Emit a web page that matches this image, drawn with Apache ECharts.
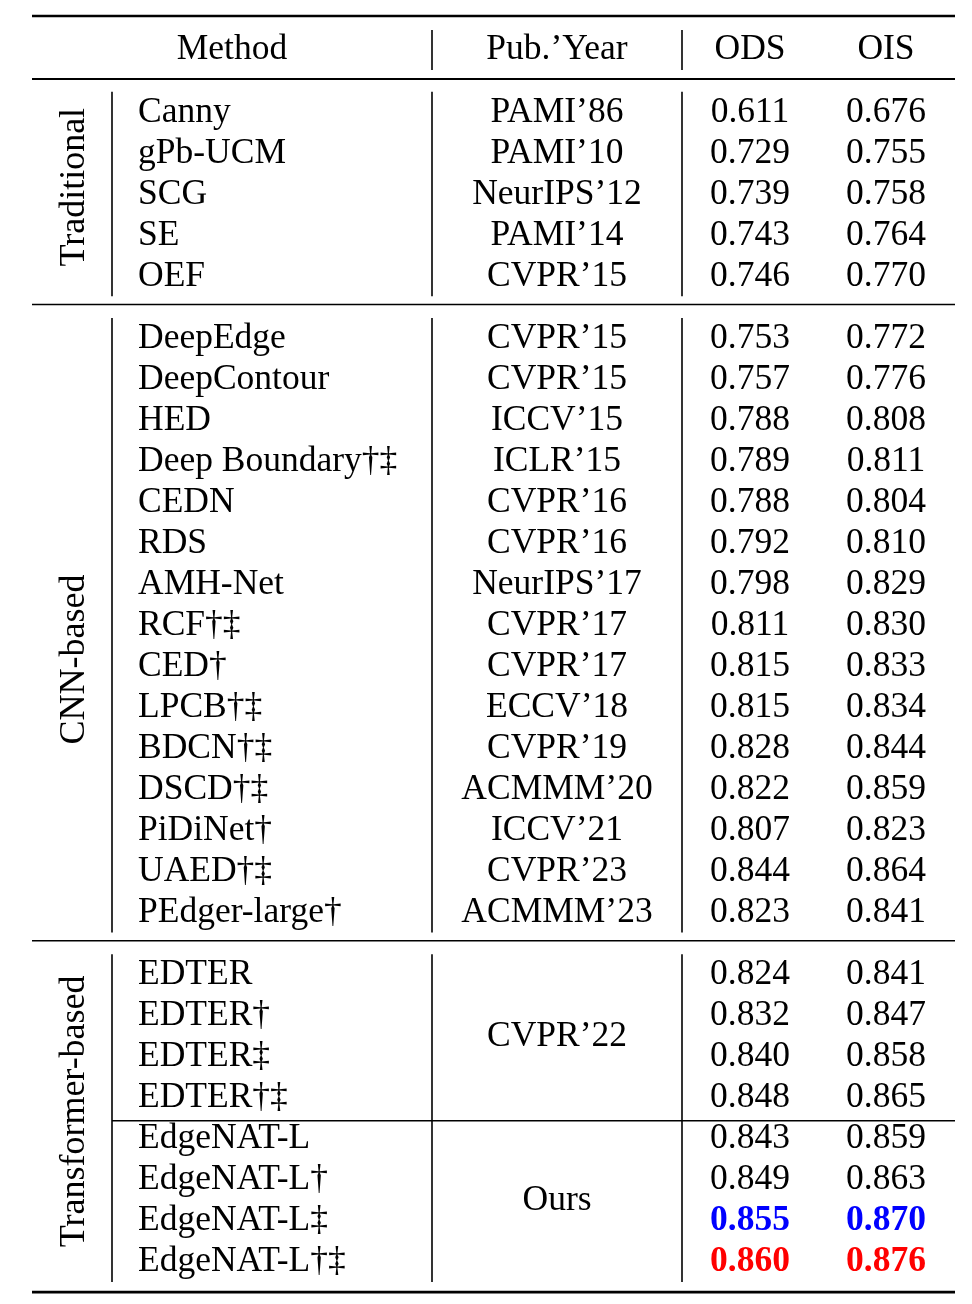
<!DOCTYPE html>
<html><head><meta charset="utf-8">
<script src="https://cdn.jsdelivr.net/npm/echarts@6/dist/echarts.min.js"></script>
<style>html,body{margin:0;padding:0;background:#fff}#c{width:972px;height:1304px}</style>
</head><body><div id="c"></div>
<script>
// ---------------- data ----------------
const headers = ['Method', 'Pub.’Year', 'ODS', 'OIS'];
const groupNames = ['Traditional', 'CNN-based', 'Transformer-based'];

const traditionalMethods = ['Canny', 'gPb-UCM', 'SCG', 'SE', 'OEF'];
const traditionalPub = ['PAMI’86', 'PAMI’10', 'NeurIPS’12', 'PAMI’14', 'CVPR’15'];
const traditionalODS = [0.611, 0.729, 0.739, 0.743, 0.746];
const traditionalOIS = [0.676, 0.755, 0.758, 0.764, 0.770];

const cnnMethods = ['DeepEdge', 'DeepContour', 'HED', 'Deep Boundary†‡', 'CEDN', 'RDS', 'AMH-Net',
  'RCF†‡', 'CED†', 'LPCB†‡', 'BDCN†‡', 'DSCD†‡', 'PiDiNet†', 'UAED†‡', 'PEdger-large†'];
const cnnPub = ['CVPR’15', 'CVPR’15', 'ICCV’15', 'ICLR’15', 'CVPR’16', 'CVPR’16', 'NeurIPS’17',
  'CVPR’17', 'CVPR’17', 'ECCV’18', 'CVPR’19', 'ACMMM’20', 'ICCV’21', 'CVPR’23', 'ACMMM’23'];
const cnnODS = [0.753, 0.757, 0.788, 0.789, 0.788, 0.792, 0.798, 0.811, 0.815, 0.815, 0.828, 0.822, 0.807, 0.844, 0.823];
const cnnOIS = [0.772, 0.776, 0.808, 0.811, 0.804, 0.810, 0.829, 0.830, 0.833, 0.834, 0.844, 0.859, 0.823, 0.864, 0.841];

const transformerMethods = ['EDTER', 'EDTER†', 'EDTER‡', 'EDTER†‡', 'EdgeNAT-L', 'EdgeNAT-L†', 'EdgeNAT-L‡', 'EdgeNAT-L†‡'];
const transformerPub = ['CVPR’22', 'CVPR’22', 'CVPR’22', 'CVPR’22', 'Ours', 'Ours', 'Ours', 'Ours'];
const transformerODS = [0.824, 0.832, 0.840, 0.848, 0.843, 0.849, 0.855, 0.860];
const transformerOIS = [0.841, 0.847, 0.858, 0.865, 0.859, 0.863, 0.870, 0.876];

// ---------------- layout ----------------
const L = {
  font: 'Liberation Serif', size: 35.5, groupSize: 36,
  xGroup: 75, xMethod: 138, xMethodHead: 232, xPub: 557, xODS: 750, xOIS: 886,
  left: 32, right: 955, v1: 112, v2: 432, v3: 682,
  rowPx: 41, headerPx: 47, height: 1304, width: 972,
  gap: 1.52, boxTop: 0.43, boxBot: 0.56, textShift: 0.075,
  topRule: -0.756, headRule: 0.78, bottomExtra: 0.81, innerExtra: 0.13,
  headVTop: -0.415, headVBot: 0.56,
  groupLabelShift: [-0.1, 0.9, -0.1]
};
const bestColor = '#ff0000', secondColor = '#0000ff';

const groups = [
  { name: groupNames[0], methods: traditionalMethods, pub: traditionalPub, ods: traditionalODS, ois: traditionalOIS, merge: false },
  { name: groupNames[1], methods: cnnMethods, pub: cnnPub, ods: cnnODS, ois: cnnOIS, merge: false },
  { name: groupNames[2], methods: transformerMethods, pub: transformerPub, ods: transformerODS, ois: transformerOIS, merge: true }
];

function rankColors(all) {
  const sorted = Array.from(new Set(all)).sort((a, b) => b - a);
  return v => v === sorted[0] ? { fill: bestColor, bold: true } : v === sorted[1] ? { fill: secondColor, bold: true } : { fill: '#000', bold: false };
}
const odsRank = rankColors(groups.flatMap(g => g.ods));
const oisRank = rankColors(groups.flatMap(g => g.ois));

const cells = [];   // {x, y, text, align, fill, bold, rot, size}
const rules = [];   // {x1,y1,x2,y2,w}

headers.forEach((h, i) => {
  const x = [L.xMethodHead, L.xPub, L.xODS, L.xOIS][i];
  cells.push({ x, y: 0, text: h, align: 'center' });
});
rules.push({ x1: L.left, y1: L.topRule, x2: L.right, y2: L.topRule, w: 2.6 });
rules.push({ x1: L.left, y1: L.headRule, x2: L.right, y2: L.headRule, w: 2 });
rules.push({ x1: L.v2, y1: L.headVTop, x2: L.v2, y2: L.headVBot, w: 1.6 });
rules.push({ x1: L.v3, y1: L.headVTop, x2: L.v3, y2: L.headVBot, w: 1.6 });

let row = 0;
groups.forEach((g, gi) => {
  const first = row + L.gap;
  g.methods.forEach((m, i) => {
    const y = first + i;
    cells.push({ x: L.xMethod, y, text: m, align: 'left' });
    const a = odsRank(g.ods[i]), b = oisRank(g.ois[i]);
    cells.push({ x: L.xODS, y, text: g.ods[i].toFixed(3), align: 'center', fill: a.fill, bold: a.bold });
    cells.push({ x: L.xOIS, y, text: g.ois[i].toFixed(3), align: 'center', fill: b.fill, bold: b.bold });
  });
  if (g.merge) {
    let s = 0;
    for (let i = 1; i <= g.pub.length; i++) {
      if (i === g.pub.length || g.pub[i] !== g.pub[s]) {
        cells.push({ x: L.xPub, y: first + (s + i - 1) / 2, text: g.pub[s], align: 'center' });
        if (i < g.pub.length) {
          const yl = first + i - 0.5 + L.innerExtra;
          rules.push({ x1: L.v1, y1: yl, x2: L.right, y2: yl, w: 1.5 });
        }
        s = i;
      }
    }
  } else {
    g.pub.forEach((p, i) => cells.push({ x: L.xPub, y: first + i, text: p, align: 'center' }));
  }
  const last = first + g.methods.length - 1;
  cells.push({ x: L.xGroup, y: (first + last) / 2 + L.groupLabelShift[gi], text: g.name, align: 'center', rot: Math.PI / 2, size: L.groupSize, noShift: true });
  [L.v1, L.v2, L.v3].forEach(x => rules.push({ x1: x, y1: first - L.boxTop, x2: x, y2: last + L.boxBot, w: 1.6 }));
  if (gi < groups.length - 1) {
    const ys = last + (L.gap / 2);
    rules.push({ x1: L.left, y1: ys, x2: L.right, y2: ys, w: 1.6 });
  } else {
    rules.push({ x1: L.left, y1: last + L.bottomExtra, x2: L.right, y2: last + L.bottomExtra, w: 2.6 });
  }
  row = last;
});

const chart = echarts.init(document.getElementById('c'), null, { renderer: 'canvas' });
chart.setOption({
  animation: false,
  backgroundColor: '#fff',
  grid: { left: 0, right: 0, top: 0, bottom: 0 },
  xAxis: { type: 'value', min: 0, max: L.width, show: false },
  yAxis: { type: 'value', inverse: true, min: -L.headerPx / L.rowPx, max: (L.height - L.headerPx) / L.rowPx, show: false },
  series: [
    {
      type: 'custom', coordinateSystem: 'cartesian2d', clip: false, silent: true,
      data: rules.map(r => [r.x1, r.y1, r.x2, r.y2, r.w]),
      renderItem: (params, api) => {
        const p1 = api.coord([api.value(0), api.value(1)]);
        const p2 = api.coord([api.value(2), api.value(3)]);
        return { type: 'line', shape: { x1: p1[0], y1: p1[1], x2: p2[0], y2: p2[1] }, style: { stroke: '#000', lineWidth: api.value(4) } };
      }
    },
    {
      type: 'custom', coordinateSystem: 'cartesian2d', clip: false, silent: true,
      data: cells.map(c => [c.x, c.noShift ? c.y : c.y + L.textShift]),
      renderItem: (params, api) => {
        const c = cells[params.dataIndex];
        const p = api.coord([api.value(0), api.value(1)]);
        return {
          type: 'text', x: p[0], y: p[1], rotation: c.rot || 0,
          style: {
            text: c.text, fill: c.fill || '#000', align: c.align, verticalAlign: 'middle',
            font: (c.bold ? 'bold ' : '') + (c.size || L.size) + 'px "' + L.font + '"'
          }
        };
      }
    }
  ]
});
</script></body></html>
